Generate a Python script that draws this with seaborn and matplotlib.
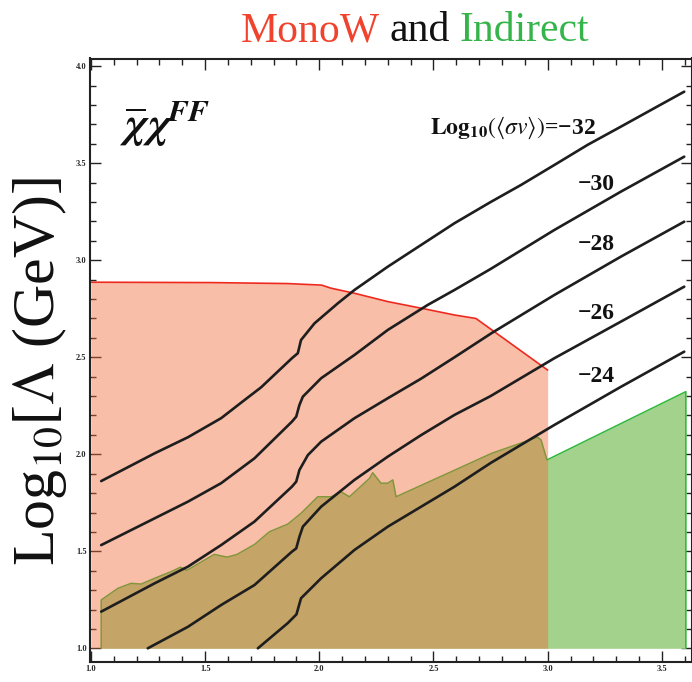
import numpy as np
import pandas as pd
import matplotlib
matplotlib.use("Agg")
import matplotlib.pyplot as plt
import seaborn as sns
from matplotlib.ticker import MultipleLocator

# ---- MonoW exclusion boundary: log10(m_chi / GeV) vs log10(Lambda / GeV)
monow_x = [1.0, 1.53, 1.86, 2.01, 2.052, 2.154, 2.30, 2.446, 2.592, 2.686, 3.0]
monow_y = [2.887, 2.885, 2.880, 2.872, 2.856, 2.83, 2.787, 2.753, 2.718, 2.70, 2.434]

# ---- Indirect-detection boundary
indirect_x = [1.045, 1.118, 1.176, 1.220, 1.279, 1.351, 1.392, 1.420, 1.540, 1.597,
              1.640, 1.716, 1.782, 1.862, 1.920, 1.993, 2.052, 2.095, 2.132, 2.220,
              2.234, 2.270, 2.300, 2.322, 2.336, 2.755, 2.956, 2.971, 2.997, 3.605]
indirect_y = [1.249, 1.309, 1.335, 1.331, 1.361, 1.395, 1.418, 1.402, 1.484, 1.470,
              1.484, 1.535, 1.601, 1.640, 1.696, 1.781, 1.781, 1.807, 1.781, 1.876,
              1.905, 1.851, 1.851, 1.868, 1.781, 2.005, 2.088, 2.074, 1.971, 2.323]

# ---- Contours of constant log10(<sigma v>)
sv_levels = [-32, -30, -28, -26, -24]

sv32_x = [1.045, 1.279, 1.425, 1.570, 1.673, 1.745, 1.880, 1.906, 1.920, 1.979, 2.081,
          2.154, 2.300, 2.446, 2.592, 2.750, 2.883, 3.029, 3.175, 3.321, 3.467, 3.598]
sv32_y = [1.862, 2.005, 2.088, 2.186, 2.280, 2.345, 2.495, 2.521, 2.589, 2.675, 2.778,
          2.847, 2.967, 3.079, 3.191, 3.300, 3.388, 3.491, 3.595, 3.689, 3.784, 3.869]

sv30_x = [1.045, 1.279, 1.425, 1.570, 1.716, 1.880, 1.899, 1.913, 1.928, 2.008, 2.154,
          2.300, 2.475, 2.592, 2.750, 3.029, 3.321, 3.598]
sv30_y = [1.532, 1.670, 1.756, 1.851, 1.979, 2.168, 2.194, 2.254, 2.297, 2.392, 2.512,
          2.641, 2.770, 2.847, 2.955, 3.156, 3.354, 3.534]

sv28_x = [1.045, 1.279, 1.425, 1.570, 1.716, 1.880, 1.899, 1.913, 1.950, 2.008, 2.154,
          2.300, 2.446, 2.592, 2.755, 3.029, 3.321, 3.598]
sv28_y = [1.189, 1.335, 1.421, 1.532, 1.653, 1.833, 1.859, 1.919, 1.996, 2.065, 2.186,
          2.289, 2.390, 2.500, 2.625, 2.821, 3.019, 3.199]

sv26_x = [1.249, 1.425, 1.570, 1.716, 1.880, 1.899, 1.913, 1.928, 2.008, 2.154, 2.300,
          2.446, 2.592, 2.750, 3.029, 3.321, 3.598]
sv26_y = [1.000, 1.111, 1.223, 1.326, 1.498, 1.515, 1.575, 1.627, 1.730, 1.868, 1.988,
          2.099, 2.203, 2.300, 2.495, 2.684, 2.864]

sv24_x = [1.731, 1.862, 1.900, 1.920, 2.008, 2.154, 2.300, 2.446, 2.592, 2.750, 3.029,
          3.321, 3.598]
sv24_y = [1.000, 1.130, 1.175, 1.258, 1.361, 1.507, 1.627, 1.730, 1.833, 1.955, 2.151,
          2.348, 2.529]

# label anchors for the contour values
sv_label_x = [3.21, 3.13, 3.13, 3.13, 3.13]
sv_label_y = [3.682, 3.388, 3.079, 2.725, 2.400]

x_ticks = [1.0, 1.5, 2.0, 2.5, 3.0, 3.5]
y_ticks = [1.0, 1.5, 2.0, 2.5, 3.0, 3.5, 4.0]

# ---- styling
sns.set_theme(style="ticks")
plt.rcParams["font.family"] = ["Liberation Serif", "DejaVu Serif"]
plt.rcParams["mathtext.fontset"] = "stix"

RED_EDGE = "#EE2A1E"
RED_FILL = (241 / 255, 107 / 255, 57 / 255)
GREEN_FILL = "#A3D28C"
GREEN_EDGE = "#2DB83D"
INK = "#1e1e1e"

fig = plt.figure(figsize=(6.92, 6.82), dpi=100)
ax = fig.add_axes([90 / 692, 20.3 / 682, 602 / 692, 603.2 / 682])

# Indirect region (underneath)
ax.fill_between(indirect_x, 1.0, indirect_y, color=GREEN_FILL, lw=0, zorder=1)
ax.plot([indirect_x[0]] + indirect_x + [indirect_x[-1]],
        [1.0] + indirect_y + [1.0], color=GREEN_EDGE, lw=1.1, zorder=1.5)

# MonoW region (translucent, on top)
ax.fill_between(monow_x, 1.0, monow_y, color=RED_FILL, alpha=0.44, lw=0, zorder=2)
sns.lineplot(x=monow_x, y=monow_y, color=RED_EDGE, lw=1.2, sort=False,
             estimator=None, ax=ax, zorder=2.5)

# <sigma v> contours
curves = [(sv32_x, sv32_y), (sv30_x, sv30_y), (sv28_x, sv28_y),
          (sv26_x, sv26_y), (sv24_x, sv24_y)]
df = pd.concat([pd.DataFrame({"log_m": cx, "log_lam": cy, "level": lvl})
                for (cx, cy), lvl in zip(curves, sv_levels)], ignore_index=True)
sns.lineplot(data=df, x="log_m", y="log_lam", units="level", estimator=None,
             sort=False, color=INK, lw=1.9, ax=ax, zorder=3, legend=False)

# contour value labels
for i, (lvl, lx, ly) in enumerate(zip(sv_levels, sv_label_x, sv_label_y)):
    val = "\u2212" + str(abs(lvl))
    if i == 0:
        ax.text(lx, ly, r"$\mathbf{Log}_{\mathbf{10}}(\langle\sigma v\rangle)$=" + val,
                ha="right", va="center", fontsize=17, fontweight="bold", color="#111",
                zorder=5)
    else:
        ax.text(lx, ly, val, ha="left", va="center", fontsize=17,
                fontweight="bold", color="#111", zorder=5)

# operator label
ax.text(1.125, 3.70, r"$\overline{\boldsymbol{\chi}}\,\boldsymbol{\chi}^{\boldsymbol{FF}}$",
        ha="left", va="center", fontsize=32, color="#111", zorder=5)

# axes frame and ticks
ax.set_xlim(0.996, 3.632)
ax.set_ylim(0.931, 4.04)
ax.set_xticks(x_ticks)
ax.set_yticks(y_ticks)
ax.set_xticklabels([f"{t:.1f}" for t in x_ticks])
ax.set_yticklabels([f"{t:.1f}" for t in y_ticks])
ax.xaxis.set_minor_locator(MultipleLocator(0.1))
ax.yaxis.set_minor_locator(MultipleLocator(0.1))
ax.tick_params(which="both", direction="in", top=True, right=True,
               color="#222", width=1.0, labelsize=6, pad=2.5)
ax.tick_params(which="major", length=8)
ax.tick_params(which="minor", length=4.5)
for lab in ax.get_xticklabels() + ax.get_yticklabels():
    lab.set_fontweight("bold")
for sp in ax.spines.values():
    sp.set_linewidth(1.5)
    sp.set_color("#222")
ax.set_xlabel("")
ax.set_ylabel("")
ax.grid(False)

# y-axis title
fig.text(40 / 692, 1 - 372 / 682, r"Log$_{10}$[$\Lambda$ (GeV)]", rotation=90,
         ha="center", va="center", fontsize=43, color="#111")

# multicoloured title
title_parts = [("MonoW", "#F0432E"), ("and", "#111111"), ("Indirect", "#35B44A")]
title_size = 30
fig.canvas.draw()
renderer = fig.canvas.get_renderer()


def text_width(s):
    t = fig.text(0, 0, s, fontsize=title_size)
    w = t.get_window_extent(renderer).width
    t.remove()
    return w


full = " ".join(p for p, _ in title_parts)
total_w = text_width(full)
left_px = 415 - total_w / 2
offsets = [0.0,
           text_width("MonoW and") - text_width("and"),
           total_w - text_width("Indirect")]
base_y = 1 - 41 / 682
for (s, c), off in zip(title_parts, offsets):
    fig.text((left_px + off) / 692, base_y, s, color=c, fontsize=title_size,
             ha="left", va="baseline")

fig.savefig("out.png", dpi=100)
